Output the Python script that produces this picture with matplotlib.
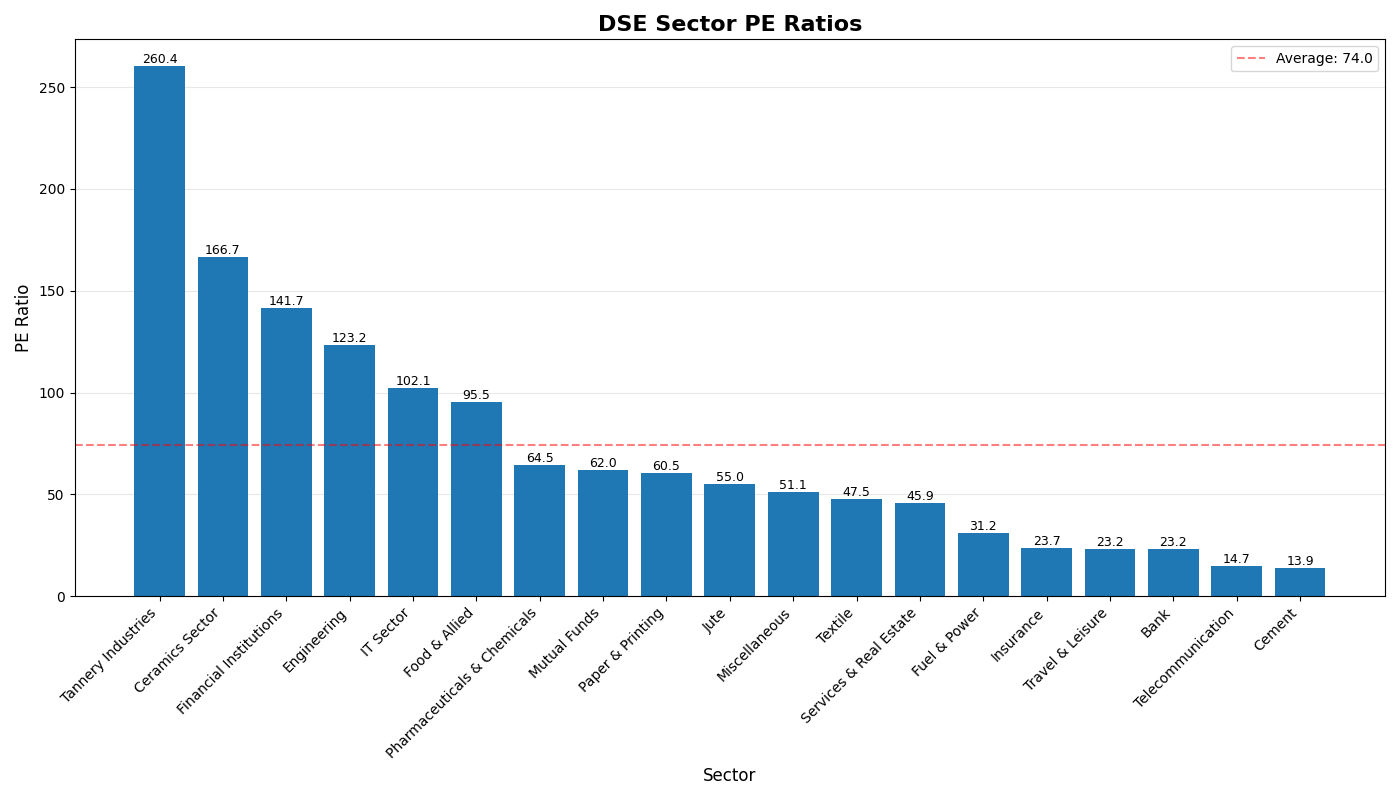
import matplotlib
matplotlib.use("Agg")
import matplotlib.pyplot as plt

sectors = ["Tannery Industries", "Ceramics Sector", "Financial Institutions", "Engineering",
           "IT Sector", "Food & Allied", "Pharmaceuticals & Chemicals", "Mutual Funds",
           "Paper & Printing", "Jute", "Miscellaneous", "Textile", "Services & Real Estate",
           "Fuel & Power", "Insurance", "Travel & Leisure", "Bank", "Telecommunication", "Cement"]
pe_values = [260.4, 166.7, 141.7, 123.2, 102.1, 95.5, 64.5, 62.0, 60.5, 55.0, 51.1, 47.5,
             45.9, 31.2, 23.7, 23.2, 23.2, 14.7, 13.9]
average_pe = 74.0

fig, ax = plt.subplots(figsize=(14, 8), dpi=100)
bars = ax.bar(sectors, pe_values, color="#1f77b4")
for b, v in zip(bars, pe_values):
    ax.text(b.get_x() + b.get_width() / 2, b.get_height(), f"{v:.1f}",
            ha="center", va="bottom", fontsize=9)
ax.axhline(average_pe, color="red", linestyle="--", alpha=0.5, label=f"Average: {average_pe:.1f}")
ax.set_title("DSE Sector PE Ratios", fontsize=16, fontweight="bold")
ax.set_xlabel("Sector", fontsize=12)
ax.set_ylabel("PE Ratio", fontsize=12)
ax.grid(axis="y", alpha=0.3)
ax.set_axisbelow(True)
plt.setp(ax.get_xticklabels(), rotation=45, ha="right")
ax.legend(loc="upper right")
fig.tight_layout()
fig.savefig("out.png", dpi=100)
